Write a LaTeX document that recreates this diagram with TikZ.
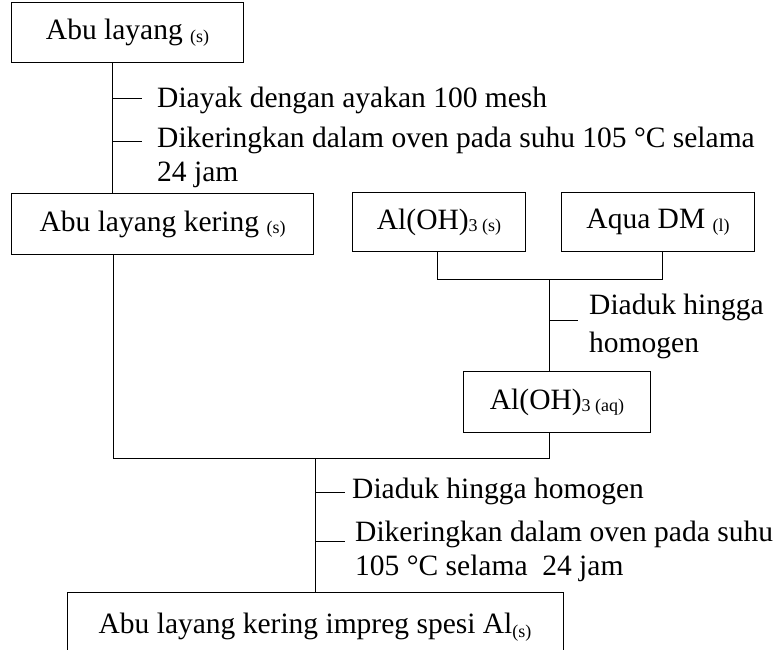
\documentclass[tikz,border=0pt]{standalone}
\usepackage{fontspec}
\setmainfont{Liberation Serif}
% small lowered phase labels such as (s), (l), (aq)
\newcommand{\phase}[1]{\raisebox{-0.09em}{\fontsize{18}{18}\selectfont #1}}
\tikzset{
  txt/.style={font=\fontsize{29.5}{34}\selectfont, inner sep=0pt},
  stepbox/.style={txt, draw, line width=1.1pt, anchor=north west},
  note/.style={txt, anchor=west, align=left},
  link/.style={line width=1pt}
}
\begin{document}
\begin{tikzpicture}[x=1pt, y=-1pt]
\useasboundingbox (0,0) rectangle (778,649);
\clip (0,0) rectangle (778,649);

% boxes (top-left corner, size)
\node[stepbox, minimum width=232pt, minimum height=60pt] (b1) at (11,2) {Abu layang \phase{(s)}};
\node[stepbox, minimum width=302pt, minimum height=61pt] (b2) at (11,193) {Abu layang kering \phase{(s)}};
\node[stepbox, minimum width=173pt, minimum height=59pt] (b3) at (352,192) {Al(OH)\phase{3 (s)}};
\node[stepbox, minimum width=193pt, minimum height=59pt] (b4) at (561,192) {Aqua DM \phase{(l)}};
\node[stepbox, minimum width=187pt, minimum height=61pt] (b5) at (463,371) {Al(OH)\phase{3 (aq)}};
\node[stepbox, minimum width=496pt, minimum height=70pt, text depth=0pt] (b6) at (67,592) {\raisebox{0pt}[0pt][0pt]{}};
\node[txt] (b6t) at (315,627) {Abu layang kering impreg spesi Al\raisebox{-0.12em}{\fontsize{18}{18}\selectfont(s)}};

% junction and tick coordinates
\coordinate (t1) at (112,98);   \coordinate (t1e) at (142,98);
\coordinate (t2) at (112,141);  \coordinate (t2e) at (142,141);
\coordinate (ja) at (437,279);  \coordinate (jb) at (662,279);
\coordinate (jc) at (549,279);
\coordinate (t3) at (549,320);  \coordinate (t3e) at (578,320);
\coordinate (jl) at (113,458);  \coordinate (jr) at (549,458);
\coordinate (jm) at (315,458);
\coordinate (t4) at (315,492);  \coordinate (t4e) at (345,492);
\coordinate (t5) at (315,541);  \coordinate (t5e) at (345,541);

% process notes
\node[note] (n1) at (157,100) {Diayak dengan ayakan 100 mesh};
\node[note] (n2) at (157,157) {Dikeringkan dalam oven pada suhu 105 °C selama\\24 jam};
\node[note, font=\fontsize{29.5}{38}\selectfont] (n3) at (589,326) {Diaduk hingga\\homogen};
\node[note] (n4) at (352,491) {Diaduk hingga homogen};
\node[note] (n5) at (355,551) {Dikeringkan dalam oven pada suhu\\105 °C selama \ 24 jam};

% connectors
\draw[link] (b1.south -| t1) -- (b2.north -| t1);
\draw[link] (t1) -- (t1e);
\draw[link] (t2) -- (t2e);
\draw[link] (b3.south -| ja) -- (ja) -- (jb) -- (b4.south -| jb);
\draw[link] (jc) -- (b5.north -| jc);
\draw[link] (t3) -- (t3e);
\draw[link] (b2.south -| jl) -- (jl) -- (jr) -- (b5.south -| jr);
\draw[link] (jm) -- (b6.north -| jm);
\draw[link] (t4) -- (t4e);
\draw[link] (t5) -- (t5e);
\end{tikzpicture}
\end{document}
